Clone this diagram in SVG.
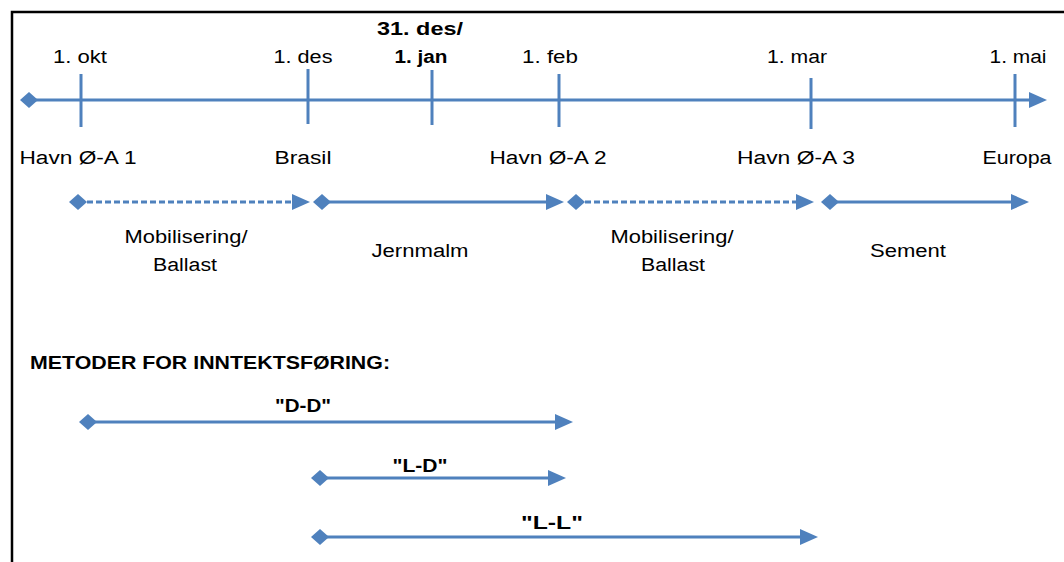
<svg xmlns="http://www.w3.org/2000/svg" width="1064" height="562" viewBox="0 0 1064 562">
<style>
text{font-family:"Liberation Sans",Arial,sans-serif;font-size:18px;fill:#000;text-anchor:middle}
.b{font-weight:bold}
.ax{stroke:#4F81BD;stroke-width:3;fill:none}
.tk{stroke:#4F81BD;stroke-width:3}
.dash{stroke-dasharray:6 3}
</style>
<defs>
<marker id="arr" markerUnits="userSpaceOnUse" markerWidth="18" markerHeight="16" refX="0" refY="8" orient="auto" overflow="visible"><path d="M0,0 L18,8 L0,16 Z" fill="#4F81BD"/></marker>
<marker id="dia" markerUnits="userSpaceOnUse" markerWidth="18" markerHeight="16" refX="9" refY="8" orient="auto" overflow="visible"><path d="M0,8 L9,0 L18,8 L9,16 Z" fill="#4F81BD"/></marker>
</defs>
<rect width="1064" height="562" fill="#fff"/>
<path d="M12,562 V12 H1064" fill="none" stroke="#000" stroke-width="2.5"/>

<g id="timeline">
<line class="ax" x1="29" y1="100" x2="1029" y2="100" marker-start="url(#dia)" marker-end="url(#arr)"/>
<line class="tk" x1="81" y1="74" x2="81" y2="127"/>
<line class="tk" x1="308" y1="69" x2="308" y2="124"/>
<line class="tk" x1="432" y1="70" x2="432" y2="125"/>
<line class="tk" x1="559" y1="74" x2="559" y2="127"/>
<line class="tk" x1="811" y1="78" x2="811" y2="129"/>
<line class="tk" x1="1015" y1="74" x2="1015" y2="127"/>
</g>

<g id="dates">
<text x="80" y="63" textLength="54" lengthAdjust="spacingAndGlyphs">1. okt</text>
<text x="303" y="63" textLength="59" lengthAdjust="spacingAndGlyphs">1. des</text>
<text class="b" x="420" y="35" textLength="86" lengthAdjust="spacingAndGlyphs">31. des/</text>
<text class="b" x="421" y="63" textLength="53" lengthAdjust="spacingAndGlyphs">1. jan</text>
<text x="550" y="63" textLength="56" lengthAdjust="spacingAndGlyphs">1. feb</text>
<text x="797" y="63" textLength="60" lengthAdjust="spacingAndGlyphs">1. mar</text>
<text x="1018" y="63" textLength="57" lengthAdjust="spacingAndGlyphs">1. mai</text>
</g>

<g id="places">
<text x="78" y="164" textLength="117" lengthAdjust="spacingAndGlyphs">Havn Ø-A 1</text>
<text x="303" y="164" textLength="57" lengthAdjust="spacingAndGlyphs">Brasil</text>
<text x="548" y="164" textLength="117" lengthAdjust="spacingAndGlyphs">Havn Ø-A 2</text>
<text x="796" y="164" textLength="118" lengthAdjust="spacingAndGlyphs">Havn Ø-A 3</text>
<text x="1017" y="164" textLength="69" lengthAdjust="spacingAndGlyphs">Europa</text>
</g>

<g id="connectors">
<line class="ax dash" x1="78" y1="202" x2="292" y2="202" marker-start="url(#dia)" marker-end="url(#arr)"/>
<line class="ax" x1="322" y1="202" x2="546" y2="202" marker-start="url(#dia)" marker-end="url(#arr)"/>
<line class="ax dash" x1="576" y1="202" x2="796" y2="202" marker-start="url(#dia)" marker-end="url(#arr)"/>
<line class="ax" x1="830" y1="202" x2="1011" y2="202" marker-start="url(#dia)" marker-end="url(#arr)"/>
<line class="ax" x1="88" y1="422" x2="555" y2="422" marker-start="url(#dia)" marker-end="url(#arr)"/>
<line class="ax" x1="320" y1="478" x2="548" y2="478" marker-start="url(#dia)" marker-end="url(#arr)"/>
<line class="ax" x1="320" y1="537" x2="800" y2="537" marker-start="url(#dia)" marker-end="url(#arr)"/>
</g>

<g id="seg-labels">
<text x="186" y="243" textLength="123" lengthAdjust="spacingAndGlyphs">Mobilisering/</text>
<text x="185" y="271" textLength="64" lengthAdjust="spacingAndGlyphs">Ballast</text>
<text x="420" y="257" textLength="97" lengthAdjust="spacingAndGlyphs">Jernmalm</text>
<text x="672" y="243" textLength="123" lengthAdjust="spacingAndGlyphs">Mobilisering/</text>
<text x="673" y="271" textLength="64" lengthAdjust="spacingAndGlyphs">Ballast</text>
<text x="908" y="257" textLength="76" lengthAdjust="spacingAndGlyphs">Sement</text>
</g>

<g id="methods">
<text class="b" x="30" y="369" style="text-anchor:start" textLength="360" lengthAdjust="spacingAndGlyphs">METODER FOR INNTEKTSFØRING:</text>
<text class="b" x="303" y="412" textLength="56" lengthAdjust="spacingAndGlyphs">"D-D"</text>
<text class="b" x="420" y="472" textLength="55" lengthAdjust="spacingAndGlyphs">"L-D"</text>
<text class="b" x="552" y="529" textLength="62" lengthAdjust="spacingAndGlyphs">"L-L"</text>
</g>
</svg>
